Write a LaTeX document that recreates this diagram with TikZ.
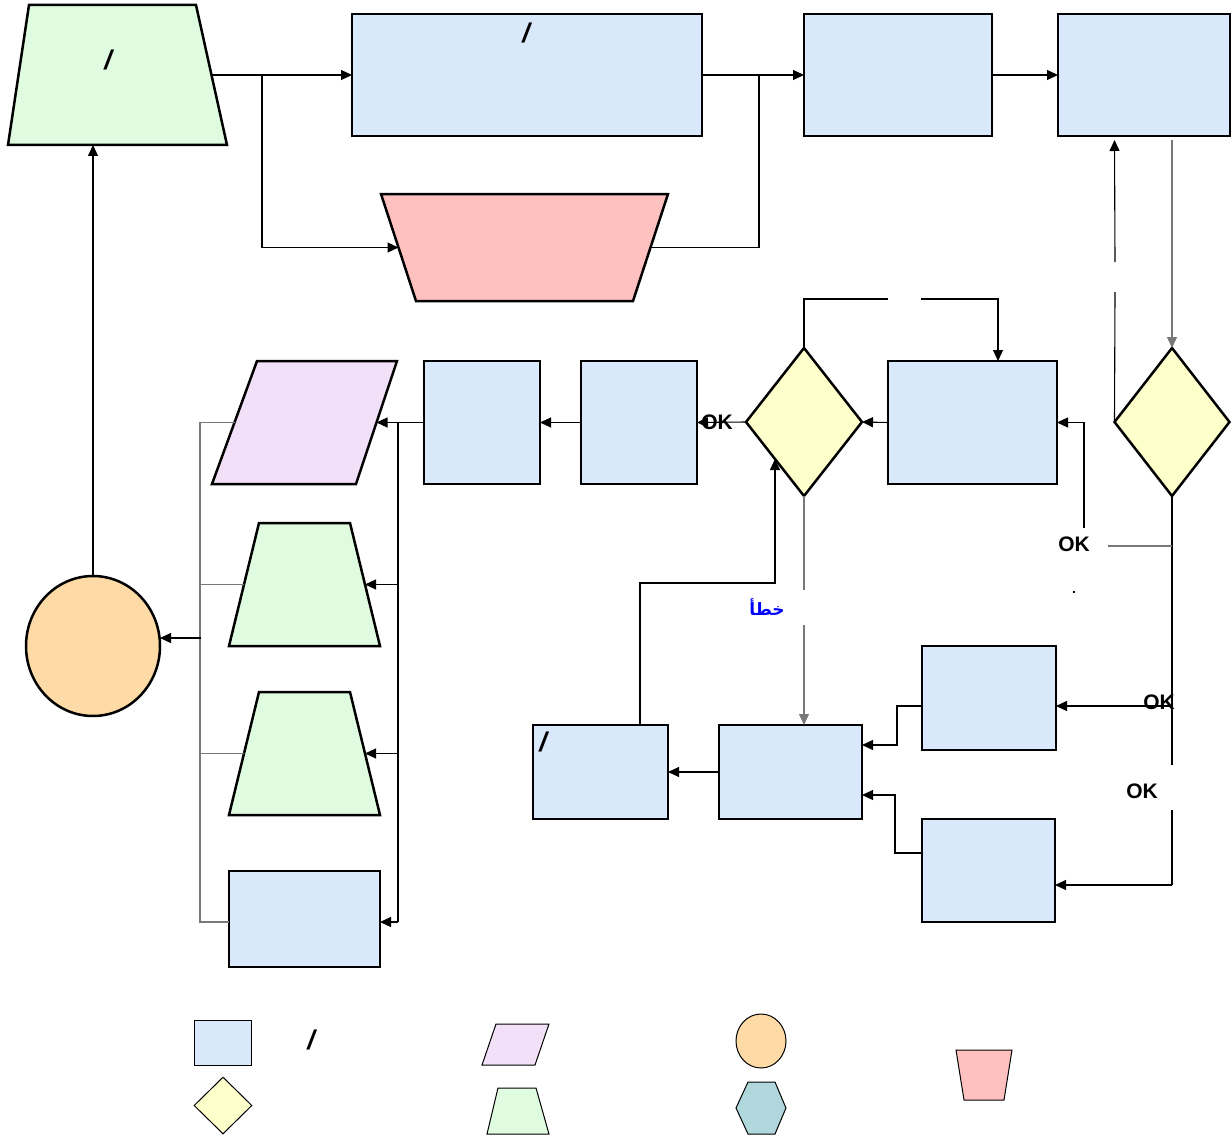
\documentclass[tikz,border=0pt]{standalone}
\usepackage{fontspec}
\setmainfont{Liberation Sans}
\newfontfamily\arabicfont[Script=Arabic]{DejaVu Sans}
\TeXXeTstate=1
\usetikzlibrary{shapes.geometric,arrows.meta,calc}
\definecolor{cblue}{RGB}{218,232,252}
\definecolor{cgreen}{RGB}{224,252,224}
\definecolor{cpink}{RGB}{255,192,192}
\definecolor{cpurple}{RGB}{242,224,248}
\definecolor{cyellow}{RGB}{255,255,204}
\definecolor{corange}{RGB}{254,218,166}
\definecolor{cteal}{RGB}{176,216,220}
\definecolor{cgrayline}{RGB}{120,120,120}
\tikzset{
  shp/.style={draw, line width=2.5pt, inner sep=0pt, outer sep=0pt},
  poly/.style={draw, line width=2.5pt, line join=miter},
  bx/.style={shp, rectangle, fill=cblue},
  dia/.style={shp, diamond, fill=cyellow},
  conn/.style={line width=1.1pt, -{Triangle[length=11pt,width=10pt]}},
  ln/.style={line width=1.1pt},
  gln/.style={line width=1.1pt, draw=cgrayline},
  oktxt/.style={font=\bfseries\fontsize{21}{23}\selectfont, inner sep=0pt},
  slash/.style={font=\bfseries\itshape\fontsize{27}{29}\selectfont, inner sep=0pt},
  leg/.style={draw, line width=1pt, inner sep=0pt},
}
\begin{document}
\begin{tikzpicture}[x=1pt,y=-1pt]
\useasboundingbox (0,0) rectangle (1232,1137);
% polygon corners
\coordinate (T1tl) at (29,5);   \coordinate (T1tr) at (196,5);
\coordinate (T1br) at (227,145); \coordinate (T1bl) at (8,145);
\coordinate (P1tl) at (381,194); \coordinate (P1tr) at (668,194);
\coordinate (P1br) at (633,301); \coordinate (P1bl) at (416,301);
\coordinate (PAtl) at (257,361); \coordinate (PAtr) at (397,361);
\coordinate (PAbr) at (356,484); \coordinate (PAbl) at (212,484);
\coordinate (T2tl) at (259,523); \coordinate (T2tr) at (350,523);
\coordinate (T2br) at (380,646); \coordinate (T2bl) at (229,646);
\coordinate (T3tl) at (259,692); \coordinate (T3tr) at (350,692);
\coordinate (T3br) at (380,815); \coordinate (T3bl) at (229,815);
% top row
\draw[poly, fill=cgreen] (T1tl) -- (T1tr) -- (T1br) -- (T1bl) -- cycle;
\coordinate (T1e) at ($(T1tr)!0.5!(T1br)$);
\node[slash] (s1) at (108,60) {/};
\node[bx, minimum width=350pt, minimum height=122pt] (R1) at (527,75) {};
\node[slash] (s2) at (526,33) {/};
\node[bx, minimum width=188pt, minimum height=122pt] (R2) at (898,75) {};
\node[bx, minimum width=172pt, minimum height=122pt] (R3) at (1144,75) {};
\draw[poly, fill=cpink] (P1tl) -- (P1tr) -- (P1br) -- (P1bl) -- cycle;
\coordinate (P1w) at ($(P1tl)!0.5!(P1bl)$);
\coordinate (P1e) at ($(P1tr)!0.5!(P1br)$);
% middle row
\node[dia, minimum width=115pt, minimum height=148pt] (D2) at (1172,422) {};
\node[bx, minimum width=169pt, minimum height=123pt] (R4) at (972.5,422.5) {};
\node[dia, minimum width=116pt, minimum height=148pt] (D1) at (804,422) {};
\node[bx, minimum width=116pt, minimum height=123pt] (R5) at (639,422.5) {};
\node[bx, minimum width=116pt, minimum height=123pt] (R6) at (482,422.5) {};
\draw[poly, fill=cpurple] (PAtl) -- (PAtr) -- (PAbr) -- (PAbl) -- cycle;
\coordinate (PAe) at ($(PAtr)!0.5!(PAbr)$);
\coordinate (PAw) at ($(PAtl)!0.5!(PAbl)$);
\draw[poly, fill=cgreen] (T2tl) -- (T2tr) -- (T2br) -- (T2bl) -- cycle;
\coordinate (T2e) at ($(T2tr)!0.5!(T2br)$);
\coordinate (T2w) at ($(T2tl)!0.5!(T2bl)$);
\draw[poly, fill=cgreen] (T3tl) -- (T3tr) -- (T3br) -- (T3bl) -- cycle;
\coordinate (T3e) at ($(T3tr)!0.5!(T3br)$);
\coordinate (T3w) at ($(T3tl)!0.5!(T3bl)$);
\node[bx, minimum width=151pt, minimum height=96pt] (R7) at (304.5,919) {};
\node[shp, ellipse, fill=corange, minimum width=134pt, minimum height=140pt] (C) at (93,646) {};
% lower right
\node[bx, minimum width=134pt, minimum height=104pt] (R8) at (989,698) {};
\node[bx, minimum width=133pt, minimum height=103pt] (R9) at (988.5,870.5) {};
\node[bx, minimum width=143pt, minimum height=94pt] (R10) at (790.5,772) {};
\node[bx, minimum width=135pt, minimum height=94pt] (R11) at (600.5,772) {};
\node[slash] (s3) at (543,742) {/};

% connectors top
\coordinate (j1) at (262,75);
\coordinate (j2) at (759,75);
\draw[conn] (T1e) -- (R1.west);
\draw[conn] (j1) |- (P1w);
\draw[conn] (R1.east) -- (R2.west);
\draw[ln] (P1e) -| (j2);
\draw[conn] (R2.east) -- (R3.west);
\draw[conn, draw=cgrayline] (D2.north |- 0,140) -- (D2.north);
\draw[conn] (D2.west) -- (1115,292) (1115,262) -- (D2.west |- 0,140);
% D2 outputs
\coordinate (d2a) at (1172,546);
\draw[ln] (D2.south) -- (1172,765) (1172,810) -- (1172,885);
\draw[conn] (1172,885) -- ($(R9.east)+(0,14.5)$);
\node[oktxt] (ok3) at (1142,791) {OK};
\draw[gln] (d2a) -- (1108,546);
\node[oktxt] (ok1) at (1074,544) {OK};
\draw[conn] (1084,528) |- (R4.east);
\node[font=\bfseries\fontsize{14}{16}\selectfont, inner sep=0pt] (dot) at (1074,592) {.};
\draw[conn] (1172,706) -- ($(R8.east)+(0,8)$);
\node[oktxt] (ok2) at (1159,702) {OK};
% D1
\draw[conn] (R4.west) -- (D1.east);
\draw[conn] (D1.north) |- (888,299) (921,299) -| ($(R4.north)+(25.5,0)$);
\draw[conn] (D1.west) -- (R5.east);
\node[oktxt] (ok0) at (717,422) {OK};
\draw[conn, draw=cgrayline] (D1.south) -- (804,590) (804,625) -- (D1.south |- R10.north);
\node[font=\arabicfont\bfseries\fontsize{17}{19}\selectfont, text=blue, inner sep=0pt] (err) at (767,607) {\beginR خطأ\endR};
\draw[conn] (R5.west) -- (R6.east);
\draw[conn] (R6.west) -- (PAe);
% right bus of left column
\coordinate (rb) at (398,422.5);
\draw[ln] (rb) -- (398,922);
\draw[conn] (rb |- T2e) -- (T2e);
\draw[conn] (rb |- T3e) -- (T3e);
\draw[conn] (398,922) -- ($(R7.east)+(0,3)$);
% left bus
\draw[gln] (PAw) -| (200,922) -- ($(R7.west)+(0,3)$);
\draw[gln] (T2w) -- (200,584.5);
\draw[gln] (T3w) -- (200,753.5);
\draw[conn] (201,638) -- ($(C.east)+(0,-8)$);
\draw[conn] (C.north) -- (C.north |- T1bl);
% R11 -> D1
\coordinate (k) at (D1.south west |- 0,583);
\draw[conn] ($(R11.north)+(39.5,0)$) |- (k) -- (D1.south west);
\draw[conn] (R10.west) -- (R11.east);
\draw[conn] ($(R8.west)+(0,8)$) -- ++(-25,0) |- ($(R10.east)+(0,-27)$);
\draw[conn] ($(R9.west)+(0,-17.5)$) -- ++(-27,0) |- ($(R10.east)+(0,23)$);

% legend
\node[leg, rectangle, fill=cblue, minimum width=57pt, minimum height=45pt] (L1) at (222.5,1042.5) {};
\node[slash] (s4) at (311,1040) {/};
\node[leg, diamond, fill=cyellow, minimum width=58pt, minimum height=57pt] (L2) at (223,1105.5) {};
\draw[leg, fill=cpurple] (496,1024) -- (549,1024) -- (535,1065) -- (482,1065) -- cycle;
\draw[leg, fill=cgreen] (498,1088) -- (536,1088) -- (549,1134) -- (487,1134) -- cycle;
\node[leg, ellipse, fill=corange, minimum width=50pt, minimum height=54pt] (L5) at (761,1041) {};
\draw[leg, fill=cteal] (748,1082) -- (775,1082) -- (786,1108) -- (775,1134) -- (748,1134) -- (736,1108) -- cycle;
\draw[leg, fill=cpink] (956,1050) -- (1012,1050) -- (1004,1100) -- (964,1100) -- cycle;
\end{tikzpicture}
\end{document}
